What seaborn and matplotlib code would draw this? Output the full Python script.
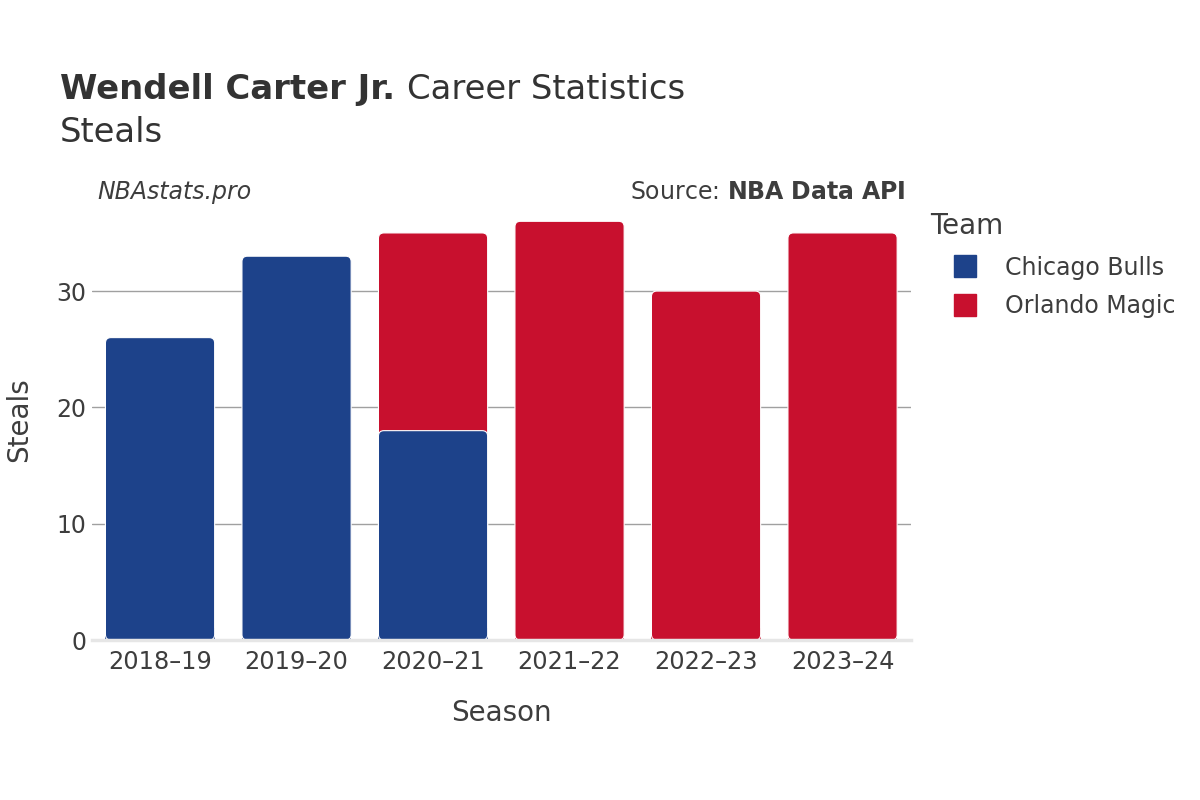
import seaborn as sns
import matplotlib.pyplot as plt
import pandas as pd
from matplotlib.lines import Line2D
from matplotlib.patches import FancyBboxPatch

seasons = ["2018–19", "2019–20", "2020–21", "2021–22", "2022–23", "2023–24"]
bulls_steals = [26, 33, 18, 0, 0, 0]
magic_steals = [0, 0, 17, 36, 30, 35]
teams = ["Chicago Bulls", "Orlando Magic"]
team_colors = {"Chicago Bulls": "#1d428a", "Orlando Magic": "#c8102e"}

df = pd.DataFrame({"Season": seasons, "Bulls": bulls_steals, "Magic": magic_steals})
df["Total"] = df["Bulls"] + df["Magic"]

sns.set_style("white")
plt.rcParams['font.family'] = ['DejaVu Sans']
text_color = "#3d3d3d"

fig = plt.figure(figsize=(12, 8), dpi=100)
ax = fig.add_axes([0.0765, 0.2, 0.6825, 0.551])
ymax = 37.9

# magic sits on top of bulls, so draw the totals first
magic_rows = df[df["Magic"] > 0]
bulls_rows = df[df["Bulls"] > 0]
sns.barplot(data=magic_rows, x="Season", y="Total", order=seasons,
            color=team_colors["Orlando Magic"], saturation=1, width=0.8,
            ax=ax)
sns.barplot(data=bulls_rows, x="Season", y="Bulls", order=seasons,
            color=team_colors["Chicago Bulls"], saturation=1, width=0.8,
            ax=ax)

# round the top corners a little
bars = [p for p in ax.patches if p.get_height() > 0]
for i, p in enumerate(bars):
    x, y = p.get_x(), p.get_y()
    w, h = p.get_width(), p.get_height()
    col = p.get_facecolor()
    p.set_visible(False)
    fb = FancyBboxPatch((x, y), w, h, boxstyle="round,pad=0,rounding_size=0.04",
                        mutation_aspect=ymax / 6 * 819 / 441,
                        facecolor=col, edgecolor="white",
                        linewidth=0.8, zorder=3 + 2 * i)
    ax.add_patch(fb)
    # square off the bottom of each bar
    ax.bar(x + w / 2, min(h, 1.0), width=w, bottom=y, color=col,
           linewidth=0, zorder=2 + 2 * i)

ax.set_xlim(-0.5, 5.5)
ax.set_ylim(0, ymax)
ax.set_yticks([0, 10, 20, 30])
ax.yaxis.grid(True, color="#a0a0a0", linewidth=1)
ax.set_axisbelow(True)
for s in ["left", "right", "top"]:
    ax.spines[s].set_visible(False)
ax.spines["bottom"].set_color("#e6e6e6")
ax.spines["bottom"].set_linewidth(2.5)
ax.spines["bottom"].set_zorder(50)
ax.tick_params(axis="both", length=0, labelsize=17, colors=text_color)
ax.tick_params(axis="x", labelsize=17.3, pad=7)
ax.tick_params(axis="y", pad=4)
ax.set_xlabel("Season", fontsize=20, color=text_color, labelpad=18)
ax.set_ylabel("Steals", fontsize=20, color=text_color, labelpad=17)

t1 = fig.text(0.05, 0.876, "Wendell Carter Jr.", fontsize=24.4, fontweight="bold",
              color="#333333", va="baseline")
fig.canvas.draw()
bb = t1.get_window_extent()
fig.text((bb.x1 + 12) / 1200, 0.876, "Career Statistics", fontsize=24.4,
         color="#333333", va="baseline")
fig.text(0.05, 0.8225, "Steals", fontsize=24.4, color="#333333", va="baseline")
fig.text(0.081, 0.751, "NBAstats.pro", fontsize=17, style="italic",
         color=text_color, va="baseline")
fig.text(0.755, 0.751, "Source: $\\bf{NBA\\ Data\\ API}$", fontsize=17,
         color=text_color, va="baseline", ha="right")

# legend title drawn separately so it sits left of the swatches
fig.text(0.775, 0.7175, "Team", fontsize=20, color=text_color, va="center")
handles = [Line2D([0], [0], marker="s", linestyle="", markersize=16,
                  markerfacecolor=team_colors[t], markeredgecolor=team_colors[t])
           for t in teams]
leg = fig.legend(handles, teams, loc="upper left",
                 bbox_to_anchor=(0.771, 0.701), frameon=False, fontsize=17,
                 handletextpad=0.68, labelspacing=0.6, borderpad=0.2)
for t in leg.get_texts():
    t.set_color(text_color)

fig.savefig("out.png", dpi=100, facecolor="white")
